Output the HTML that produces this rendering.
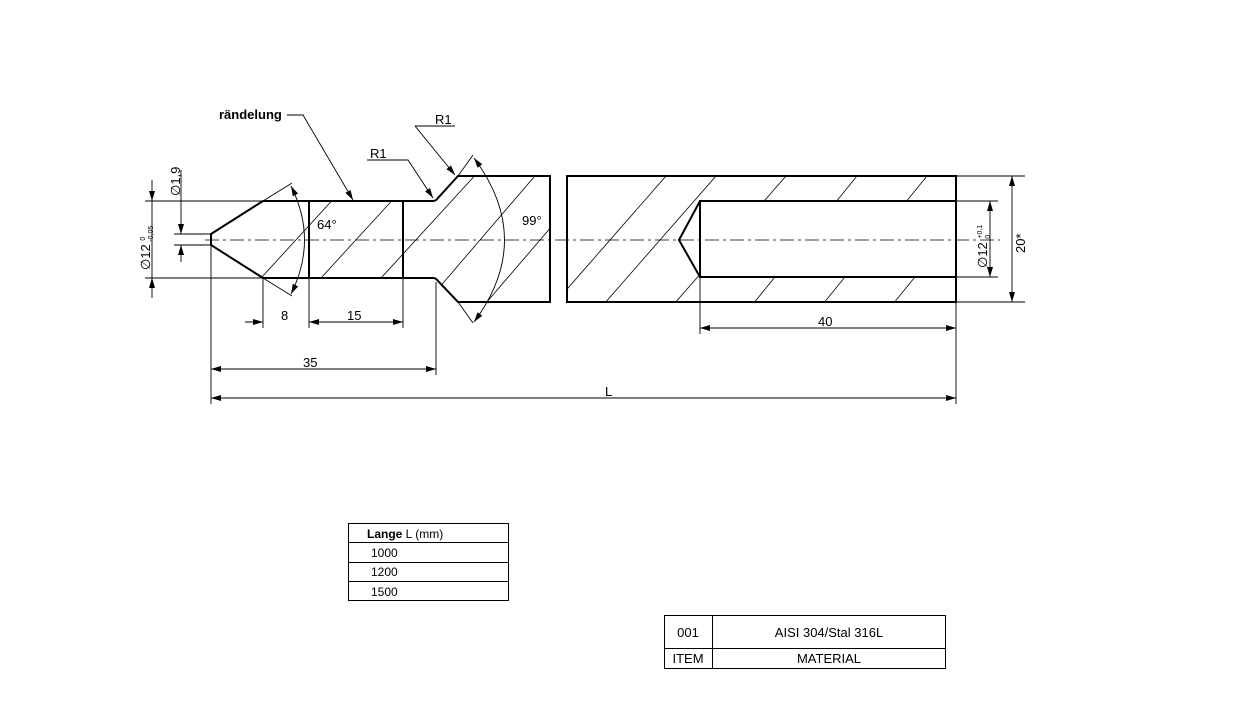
<!DOCTYPE html>
<html><head><meta charset="utf-8"><style>
html,body{margin:0;padding:0;background:#fff;}
svg{display:block;}
text{font-family:"Liberation Sans",sans-serif;fill:#000;}
</style></head><body>
<svg width="1235" height="703" viewBox="0 0 1235 703" xmlns="http://www.w3.org/2000/svg">
<defs>
<marker id="a" viewBox="0 0 10 6" refX="10" refY="3" markerWidth="10" markerHeight="6" orient="auto-start-reverse" markerUnits="userSpaceOnUse"><path d="M0,0L10,3L0,6z" fill="#000"/></marker>
<clipPath id="c1"><path d="M211,234L263,201H433Q436,201 438,198L458,176H550V302H458L438,281Q436,278 433,278H263L211,245Z"/></clipPath>
<clipPath id="c2"><path d="M567,176H956V201H700L679,240L700,277H956V302H567Z"/></clipPath>
</defs>
<!-- hatching -->
<g stroke="#000" stroke-width="0.8" clip-path="url(#c1)">
<line x1="250" y1="290" x2="360" y2="170"/><line x1="310" y1="290" x2="420" y2="170"/>
<line x1="370" y1="290" x2="480" y2="170"/><line x1="420" y1="310" x2="540" y2="170"/>
<line x1="480" y1="310" x2="600" y2="170"/>
</g>
<g stroke="#000" stroke-width="0.8" clip-path="url(#c2)">
<line x1="540" y1="320" x2="680" y2="160"/><line x1="590" y1="320" x2="730" y2="160"/>
<line x1="660" y1="320" x2="800" y2="160"/><line x1="740" y1="320" x2="870" y2="160"/>
<line x1="810" y1="320" x2="940" y2="160"/><line x1="880" y1="320" x2="1010" y2="160"/>
<line x1="640" y1="320" x2="640" y2="320"/>
</g>
<!-- outlines -->
<g stroke="#000" stroke-width="2" fill="none">
<path d="M211,234L263,201H433Q436,201 438,198L458,176H550V302H458L438,281Q436,278 433,278H263L211,245Z"/>
<line x1="309" y1="201" x2="309" y2="278"/><line x1="403" y1="201" x2="403" y2="278"/>
<rect x="567" y="176" width="389" height="126"/>
<path d="M956,201H700V277H956"/>
<path d="M700,201L679,240L700,277"/>
</g>
<!-- centerline -->
<line x1="205" y1="240" x2="1000" y2="240" stroke="#000" stroke-width="0.8" stroke-dasharray="14,4,3,4"/>
<!-- thin lines -->
<g stroke="#000" stroke-width="0.9" fill="none">
<line x1="145" y1="201" x2="263" y2="201"/><line x1="145" y1="278" x2="263" y2="278"/>
<line x1="174" y1="234" x2="211" y2="234"/><line x1="174" y1="245" x2="211" y2="245"/>
<line x1="211" y1="245" x2="211" y2="404"/><line x1="263" y1="278" x2="263" y2="328"/>
<line x1="309" y1="278" x2="309" y2="328"/><line x1="403" y1="278" x2="403" y2="328"/>
<line x1="436" y1="282" x2="436" y2="375"/><line x1="956" y1="302" x2="956" y2="404"/>
<line x1="700" y1="277" x2="700" y2="334"/>
<line x1="956" y1="176" x2="1025" y2="176"/><line x1="956" y1="302" x2="1025" y2="302"/>
<line x1="956" y1="201" x2="998" y2="201"/><line x1="956" y1="277" x2="998" y2="277"/>
<line x1="152" y1="180" x2="152" y2="201" marker-end="url(#a)"/><line x1="152" y1="298" x2="152" y2="278" marker-end="url(#a)"/>
<line x1="152" y1="201" x2="152" y2="278"/>
<line x1="181" y1="170" x2="181" y2="234" marker-end="url(#a)"/><line x1="181" y1="262" x2="181" y2="245" marker-end="url(#a)"/>
<line x1="245" y1="322" x2="263" y2="322" marker-end="url(#a)"/>
<line x1="309" y1="322" x2="403" y2="322" marker-start="url(#a)" marker-end="url(#a)"/>
<line x1="211" y1="369" x2="436" y2="369" marker-start="url(#a)" marker-end="url(#a)"/>
<line x1="211" y1="398" x2="956" y2="398" marker-start="url(#a)" marker-end="url(#a)"/>
<line x1="700" y1="328" x2="956" y2="328" marker-start="url(#a)" marker-end="url(#a)"/>
<line x1="990" y1="201" x2="990" y2="277" marker-start="url(#a)" marker-end="url(#a)"/>
<line x1="1012" y1="176" x2="1012" y2="302" marker-start="url(#a)" marker-end="url(#a)"/>
<line x1="263" y1="201" x2="292" y2="183"/><line x1="263" y1="278" x2="292" y2="296"/>
<path d="M291,186Q318,240 291,294" marker-start="url(#a)" marker-end="url(#a)"/>
<line x1="458" y1="176" x2="473" y2="155"/><line x1="458" y1="302" x2="473" y2="323"/>
<path d="M474,158Q535,240 474,322" marker-start="url(#a)" marker-end="url(#a)"/>
<path d="M287,115H303L353,200" marker-end="url(#a)"/>
<path d="M367,160H408L433,198" marker-end="url(#a)"/>
<path d="M415,126H455" /><path d="M415,126L455,175" marker-end="url(#a)"/>
</g>
<!-- labels -->
<text x="219" y="119" font-size="13" font-weight="bold">rändelung</text>
<text x="370" y="158" font-size="13">R1</text>
<text x="435" y="124" font-size="13">R1</text>
<text x="317" y="229" font-size="13">64°</text>
<text x="522" y="225" font-size="13">99°</text>
<text x="281" y="320" font-size="13">8</text>
<text x="347" y="320" font-size="13">15</text>
<text x="303" y="367" font-size="13">35</text>
<text x="605" y="396" font-size="13">L</text>
<text x="818" y="326" font-size="13">40</text>
<text transform="translate(180,196) rotate(-90)" font-size="13">∅1,9</text>
<text transform="translate(150,270) rotate(-90)" font-size="13">∅12 <tspan font-size="7" dy="-5">0</tspan><tspan font-size="7" dx="-5" dy="8">-0,05</tspan></text>
<text transform="translate(987,268) rotate(-90)" font-size="13">∅12 <tspan font-size="7" dy="-5">+0,1</tspan><tspan font-size="7" dx="-14" dy="8">0</tspan></text>
<text transform="translate(1025,253) rotate(-90)" font-size="13">20*</text>
<!-- tables -->
<g stroke="#000" stroke-width="1" fill="none">
<rect x="348.5" y="523.5" width="160" height="77"/>
<line x1="348" y1="542.5" x2="508" y2="542.5"/><line x1="348" y1="562.5" x2="508" y2="562.5"/><line x1="348" y1="581.5" x2="508" y2="581.5"/>
<rect x="664.5" y="615.5" width="281" height="53"/>
<line x1="664" y1="648.5" x2="946" y2="648.5"/><line x1="712.5" y1="615" x2="712.5" y2="668"/>
</g>
<text x="367" y="538" font-size="12"><tspan font-weight="bold">Lange</tspan> L (mm)</text>
<text x="371" y="557" font-size="12">1000</text>
<text x="371" y="576" font-size="12">1200</text>
<text x="371" y="596" font-size="12">1500</text>
<text x="688" y="637" font-size="13" text-anchor="middle">001</text>
<text x="829" y="637" font-size="13" text-anchor="middle">AISI 304/Stal 316L</text>
<text x="688" y="663" font-size="13" text-anchor="middle">ITEM</text>
<text x="829" y="663" font-size="13" text-anchor="middle">MATERIAL</text>
</svg>
</body></html>
